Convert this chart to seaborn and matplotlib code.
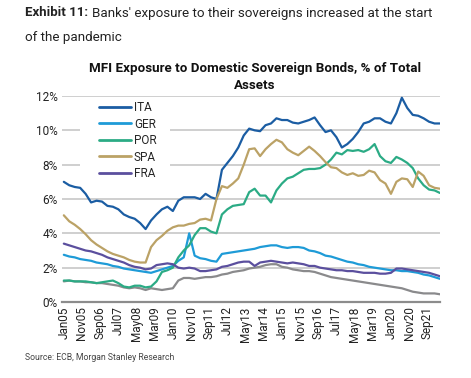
import numpy as np
import pandas as pd
import matplotlib
matplotlib.use("Agg")
import matplotlib.pyplot as plt
from matplotlib.patches import Rectangle
import seaborn as sns

# quarterly readings (month index 0 = Jan05, step 3 months)
months = list(range(0, 208, 3))

ita = [7.0, 6.8, 6.7, 6.65, 6.3, 5.8, 5.9, 5.85, 5.6, 5.55, 5.4, 5.1, 4.95, 4.85, 4.6, 4.25,
       4.75, 5.1, 5.4, 5.55, 5.3, 5.9, 6.1, 6.1, 6.1, 6.0, 6.3, 6.1, 6.0, 7.7, 8.1, 8.5,
       9.0, 9.7, 10.1, 10.0, 9.95, 10.3, 10.4, 10.7, 10.6, 10.6, 10.45, 10.4, 10.5, 10.6, 10.75, 10.3,
       9.9, 10.0, 9.6, 9.0, 9.2, 9.5, 9.9, 10.4, 10.5, 10.7, 10.7, 10.5, 10.4, 11.0, 11.9, 11.3,
       10.9, 10.85, 10.7, 10.5, 10.4, 10.4]
ger = [2.75, 2.65, 2.6, 2.5, 2.45, 2.4, 2.3, 2.25, 2.2, 2.1, 2.05, 1.95, 1.9, 1.85, 1.8, 1.75,
       1.7, 1.8, 1.9, 2.0, 2.1, 2.4, 2.6, 4.0, 2.7, 2.55, 2.5, 2.4, 2.35, 2.8, 2.85, 2.9,
       2.95, 3.0, 3.05, 3.1, 3.2, 3.25, 3.3, 3.3, 3.2, 3.15, 3.2, 3.2, 3.15, 3.0, 2.95, 2.85,
       2.7, 2.65, 2.55, 2.45, 2.35, 2.3, 2.2, 2.15, 2.05, 2.0, 1.95, 1.9, 1.85, 1.85, 1.8, 1.8,
       1.75, 1.7, 1.6, 1.55, 1.45, 1.35]
por = [1.25, 1.25, 1.2, 1.2, 1.2, 1.15, 1.1, 1.15, 1.2, 1.25, 1.1, 0.9, 0.85, 0.95, 0.95, 0.85,
       0.9, 1.2, 1.75, 1.85, 2.0, 2.6, 3.0, 3.3, 3.9, 4.3, 4.3, 4.1, 4.0, 5.1, 5.4, 5.6,
       5.65, 5.7, 6.4, 6.6, 6.2, 6.2, 5.8, 6.5, 6.9, 7.2, 7.3, 7.5, 7.7, 7.75, 7.75, 7.8,
       8.0, 8.3, 8.7, 8.6, 8.85, 8.8, 8.85, 8.75, 8.9, 9.2, 8.5, 8.2, 8.1, 8.45, 8.3, 8.1,
       7.8, 7.2, 6.8, 6.55, 6.5, 6.35]
spa = [5.05, 4.7, 4.5, 4.25, 3.95, 3.6, 3.35, 3.15, 2.95, 2.8, 2.7, 2.6, 2.45, 2.35, 2.3, 2.3,
       3.2, 3.6, 3.85, 4.15, 4.35, 4.45, 4.45, 4.55, 4.6, 4.8, 4.85, 4.75, 6.0, 6.75, 6.65, 6.9,
       7.2, 8.0, 8.9, 8.95, 8.5, 8.9, 9.2, 9.45, 9.3, 8.9, 8.7, 8.55, 8.8, 9.05, 8.8, 8.5,
       8.15, 7.85, 7.8, 7.55, 7.4, 7.5, 7.35, 7.4, 7.65, 7.55, 7.1, 6.9, 6.3, 7.0, 7.2, 7.15,
       6.7, 7.6, 7.35, 6.8, 6.65, 6.6]
fra = [3.4, 3.3, 3.2, 3.1, 3.0, 2.95, 2.85, 2.75, 2.6, 2.5, 2.4, 2.3, 2.15, 2.05, 2.0, 1.9,
       1.95, 2.15, 2.2, 2.25, 2.2, 2.0, 1.95, 2.0, 1.95, 1.8, 1.8, 1.85, 1.9, 2.05, 2.1, 2.2,
       2.3, 2.35, 2.35, 2.1, 2.3, 2.35, 2.4, 2.35, 2.3, 2.25, 2.3, 2.25, 2.2, 2.1, 2.1, 2.0,
       1.95, 1.9, 1.85, 1.85, 1.8, 1.8, 1.75, 1.7, 1.7, 1.7, 1.65, 1.65, 1.7, 1.95, 1.95, 1.9,
       1.85, 1.8, 1.75, 1.7, 1.6, 1.5]
other = [1.2, 1.25, 1.2, 1.2, 1.15, 1.15, 1.1, 1.1, 1.05, 1.0, 0.95, 0.85, 0.8, 0.85, 0.8, 0.7,
         0.8, 0.75, 0.7, 0.75, 0.8, 1.25, 1.4, 1.4, 1.35, 1.4, 1.45, 1.45, 1.5, 1.6, 1.65, 1.75,
         1.8, 1.85, 1.95, 2.0, 2.05, 2.15, 2.2, 2.2, 2.05, 2.0, 1.9, 1.85, 1.8, 1.8, 1.75, 1.65,
         1.55, 1.45, 1.4, 1.35, 1.3, 1.25, 1.2, 1.15, 1.1, 1.05, 1.0, 0.95, 0.9, 0.85, 0.8, 0.7,
         0.6, 0.55, 0.5, 0.5, 0.5, 0.45]

series_names = ["ITA", "GER", "POR", "SPA", "FRA"]
series_colors = ["#1b5da3", "#1e9bd7", "#2bab85", "#bba266", "#5b4f9e"]
other_color = "#8a8a8c"

tick_pos = list(range(0, 201, 10))
tick_labels = ["Jan05", "Nov05", "Sep06", "Jul07", "May08", "Mar09", "Jan10", "Nov10", "Sep11",
               "Jul12", "May13", "Mar14", "Jan15", "Nov15", "Sep16", "Jul17", "May18", "Mar19",
               "Jan20", "Nov20", "Sep21"]

yticks = [0, 2, 4, 6, 8, 10, 12]

df = pd.DataFrame({"month": months, "ITA": ita, "GER": ger, "POR": por, "SPA": spa, "FRA": fra})
long = df.melt(id_vars="month", var_name="series", value_name="value")
df_other = pd.DataFrame({"month": months, "value": other})

sns.set_theme(style="white")
plt.rcParams["font.family"] = ["Roboto", "DejaVu Sans"]

fig = plt.figure(figsize=(4.71, 3.78), dpi=100)
ax = fig.add_axes([62 / 471, 1 - 302 / 378, (440 - 62) / 471, (302 - 96) / 378])

for y in yticks[1:]:
    ax.axhline(y, color="#cfcfcf", lw=1.4, zorder=0)

# white box behind the legend hiding the gridlines
ax.add_patch(Rectangle((18 / 378, (302 - 179) / 206), (170 - 80) / 378, (179 - 100) / 206,
                       transform=ax.transAxes, facecolor="white", edgecolor="none", zorder=1))

sns.lineplot(data=df_other, x="month", y="value", color=other_color, lw=1.6, ax=ax, legend=False, zorder=2)
sns.lineplot(data=long, x="month", y="value", hue="series", hue_order=series_names,
             palette=series_colors, lw=1.6, ax=ax, zorder=3)

ax.set_xlim(-1, 207)
ax.set_ylim(0, 12)
ax.set_yticks(yticks)
ax.set_yticklabels([f"{v}%" for v in yticks], fontsize=8.5, color="#222222")
ax.set_xticks(tick_pos)
ax.set_xticklabels(tick_labels, rotation=90, fontsize=8.5, color="#222222")
ax.tick_params(axis="both", length=0, pad=3)
ax.set_xlabel("")
ax.set_ylabel("")
for s in ["top", "right", "left"]:
    ax.spines[s].set_visible(False)
ax.spines["bottom"].set_color("#8c8c8c")
ax.spines["bottom"].set_linewidth(1.6)

leg = ax.legend(loc="upper left", bbox_to_anchor=((99 - 62) / 378, (302 - 101) / 206), frameon=False,
                fontsize=8.5, handlelength=2.7, handletextpad=0.25, labelspacing=0.3,
                borderpad=0, borderaxespad=0)
for h in leg.get_lines():
    h.set_linewidth(2)
leg.set_zorder(5)

fig.text(25 / 471, 1 - 13 / 378, "Exhibit 11:", fontsize=9.5, fontweight="bold", va="center", color="#222222")
fig.text(92 / 471, 1 - 13 / 378, "Banks' exposure to their sovereigns increased at the start",
         fontsize=9.6, va="center", color="#222222")
fig.text(25 / 471, 1 - 38 / 378, "of the pandemic", fontsize=9.6, va="center", color="#222222")
fig.text(255 / 471, 1 - 77 / 378, "MFI Exposure to Domestic Sovereign Bonds, % of Total\nAssets",
         fontsize=9.6, fontweight="bold", ha="center", va="center", linespacing=1.45, color="#111111")
fig.text(25 / 471, 1 - 358 / 378, "Source: ECB, Morgan Stanley Research", fontsize=6.2, va="center", color="#444444")

fig.savefig("out.png", dpi=100)
